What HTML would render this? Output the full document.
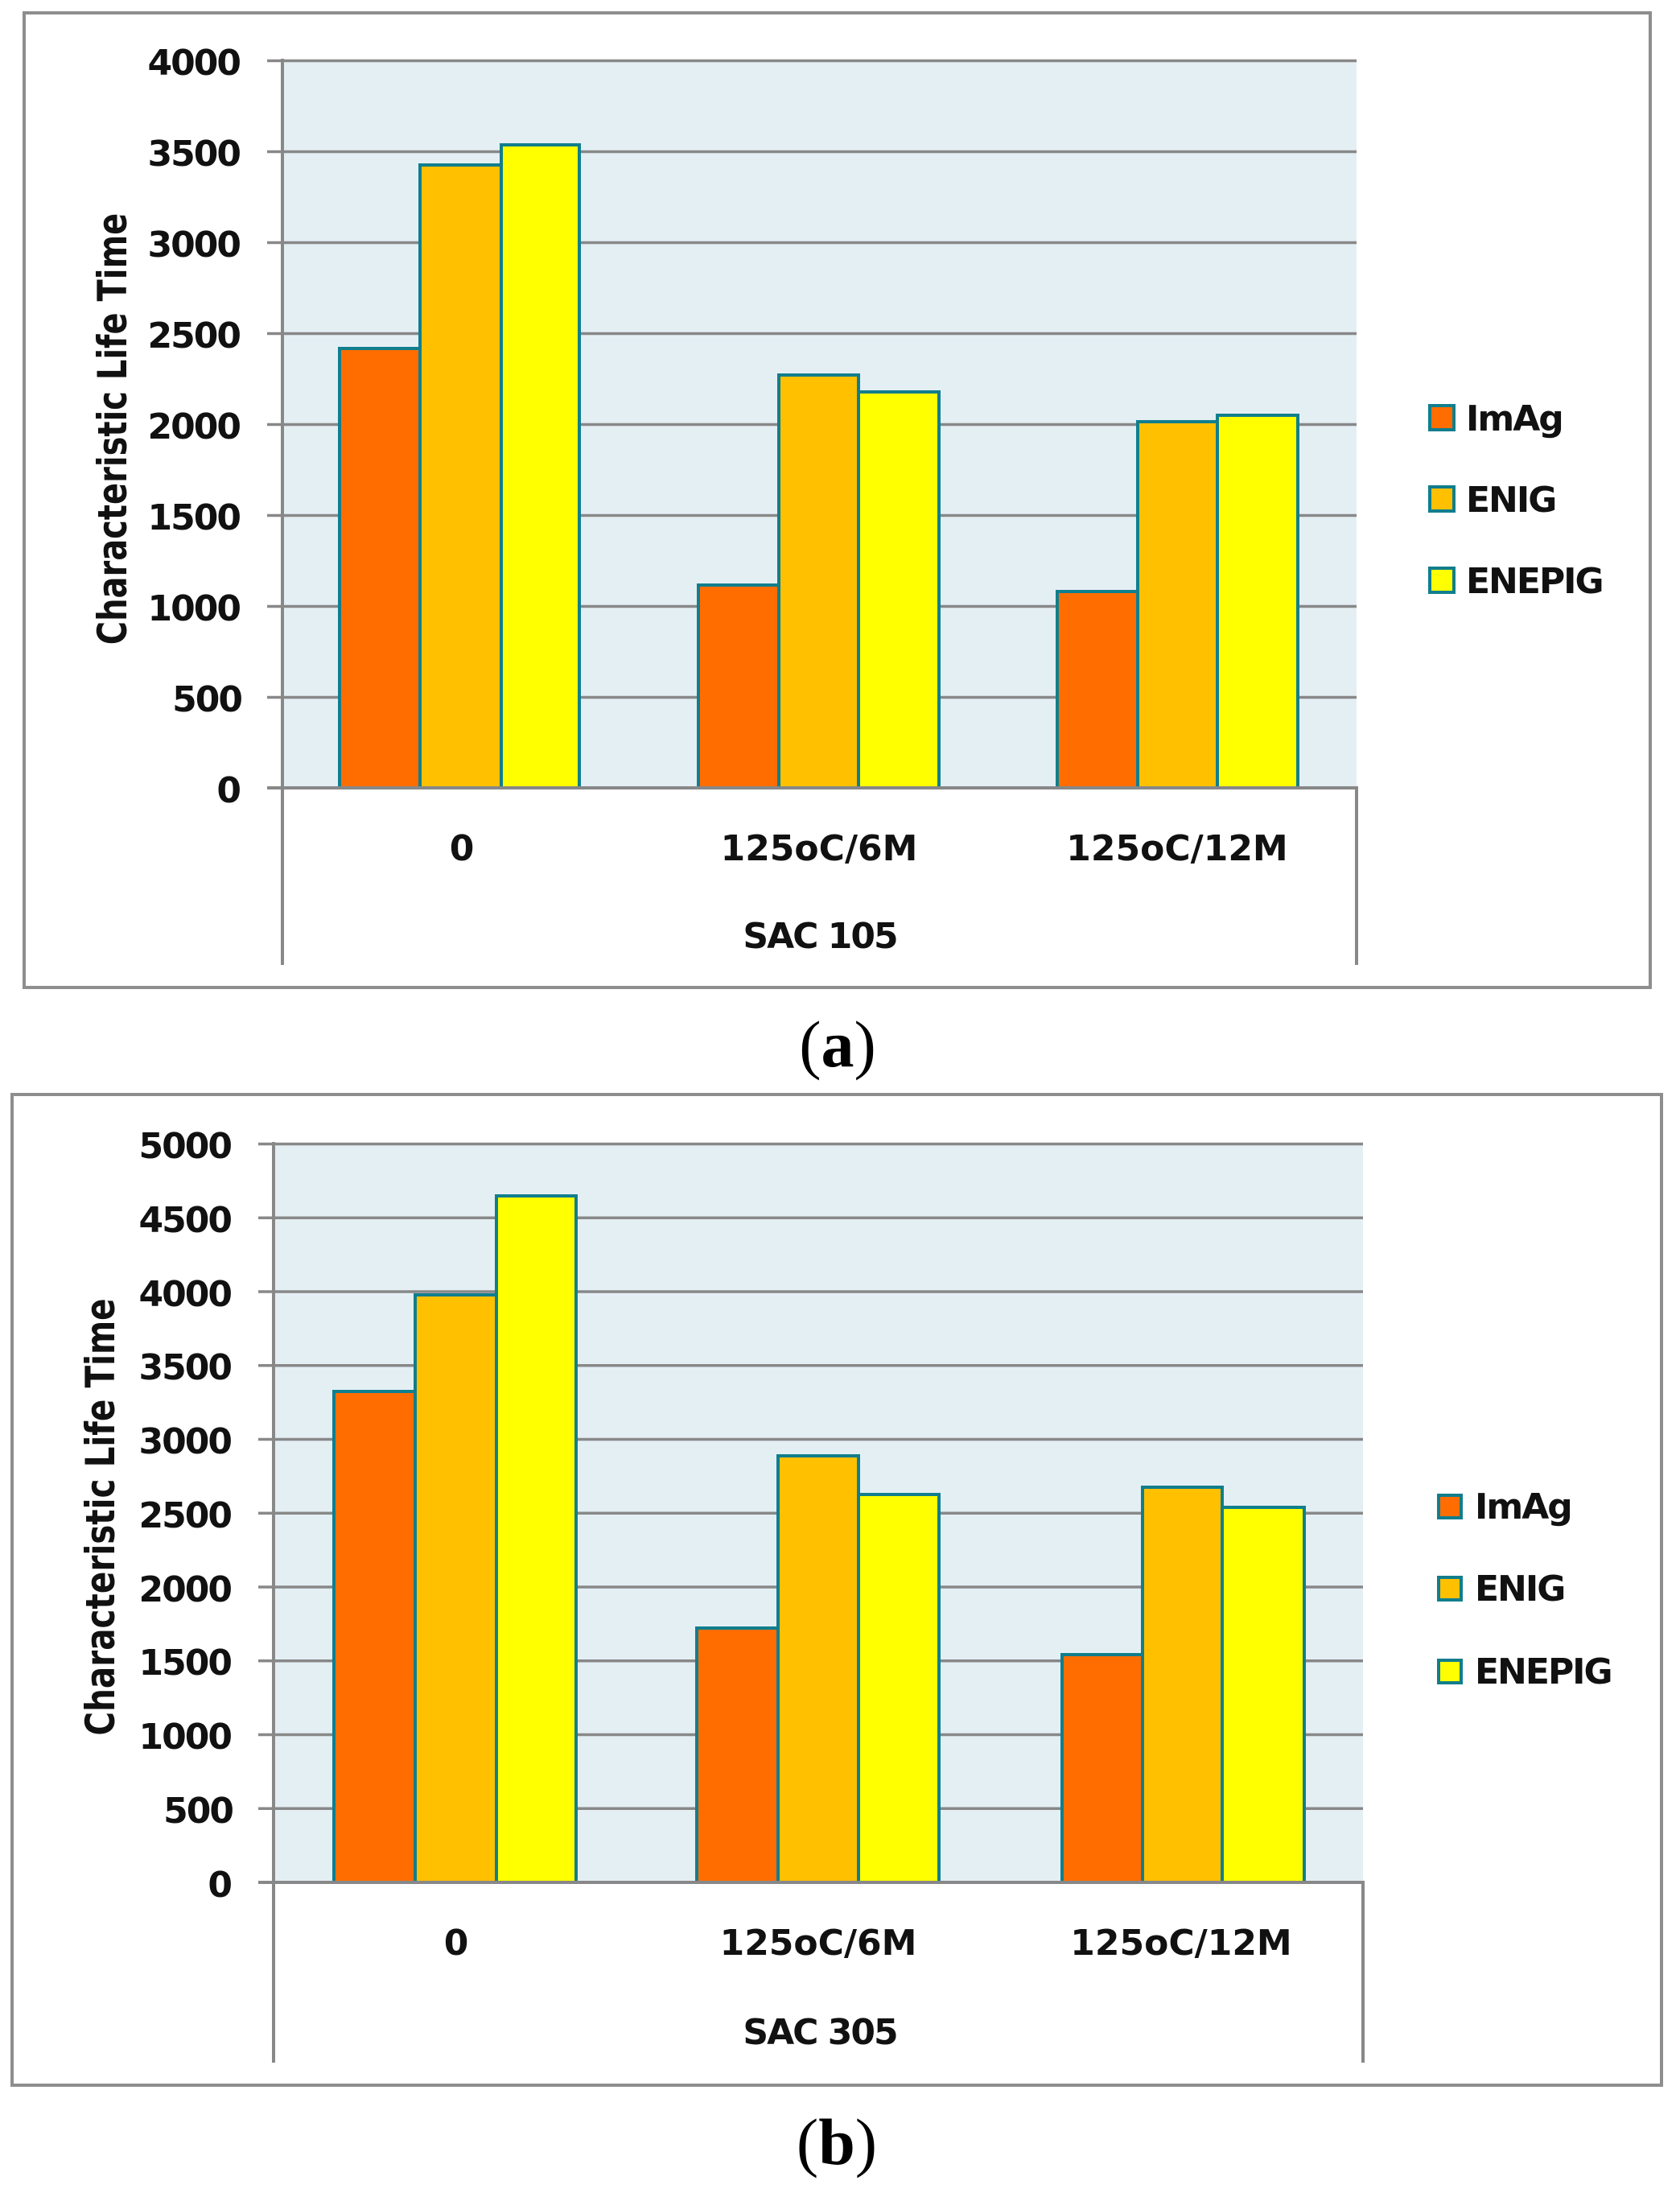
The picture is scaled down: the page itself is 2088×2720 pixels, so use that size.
<!DOCTYPE html>
<html>
<head>
<meta charset="utf-8">
<style>
html,body{margin:0;padding:0;background:#fff;}
svg{display:block;}
.t{font-family:"DejaVu Sans","Liberation Sans",sans-serif;font-weight:bold;font-size:44px;fill:#111;}
.tk{letter-spacing:-2px;text-anchor:end;}
.lg{letter-spacing:-2px;}
.cat{text-anchor:middle;}
.ttl{font-family:"DejaVu Sans","Liberation Sans",sans-serif;font-weight:bold;font-size:50px;fill:#111;text-anchor:middle;}
.cap{font-family:"Liberation Serif",serif;font-size:82px;fill:#000;text-anchor:middle;}
</style>
</head>
<body>
<svg width="2088" height="2720" viewBox="0 0 2088 2720" xmlns="http://www.w3.org/2000/svg">
<rect width="2088" height="2720" fill="#fff"/>

<!-- ================= CHART A ================= -->
<rect x="30" y="16" width="2021" height="1211" fill="#fff" stroke="#8e8e8e" stroke-width="4"/>
<rect x="351" y="75" width="1335" height="904" fill="#e4eff4"/>
<g stroke="#888" stroke-width="3.5">
<line x1="332" y1="75.5" x2="1686" y2="75.5"/>
<line x1="332" y1="188.5" x2="1686" y2="188.5"/>
<line x1="332" y1="301.5" x2="1686" y2="301.5"/>
<line x1="332" y1="414.5" x2="1686" y2="414.5"/>
<line x1="332" y1="527.5" x2="1686" y2="527.5"/>
<line x1="332" y1="640.5" x2="1686" y2="640.5"/>
<line x1="332" y1="753.5" x2="1686" y2="753.5"/>
<line x1="332" y1="866.5" x2="1686" y2="866.5"/>
</g>
<!-- bars A -->
<g stroke="#117e8d" stroke-width="4">
<rect x="422" y="433" width="100" height="546" fill="#ff6d00"/>
<rect x="522" y="205" width="101" height="774" fill="#ffc000"/>
<rect x="623" y="180" width="97" height="799" fill="#ffff00"/>

<rect x="868" y="727" width="100" height="252" fill="#ff6d00"/>
<rect x="968" y="466" width="99" height="513" fill="#ffc000"/>
<rect x="1067" y="487" width="100" height="492" fill="#ffff00"/>

<rect x="1314" y="735" width="100" height="244" fill="#ff6d00"/>
<rect x="1414" y="524" width="99" height="455" fill="#ffc000"/>
<rect x="1513" y="516" width="100" height="463" fill="#ffff00"/>
</g>
<g stroke="#888" stroke-width="4">
<line x1="332" y1="979" x2="1688" y2="979"/>
<line x1="351" y1="73" x2="351" y2="1199"/>
<line x1="1686" y1="979" x2="1686" y2="1199"/>
</g>
<!-- ticks A -->
<text class="t tk" x="298" y="93">4000</text>
<text class="t tk" x="298" y="206">3500</text>
<text class="t tk" x="298" y="319">3000</text>
<text class="t tk" x="298" y="432">2500</text>
<text class="t tk" x="298" y="545">2000</text>
<text class="t tk" x="298" y="658">1500</text>
<text class="t tk" x="298" y="771">1000</text>
<text class="t tk" x="300" y="884">500</text>
<text class="t tk" x="298" y="997">0</text>
<!-- categories A -->
<text class="t cat" x="574" y="1069">0</text>
<text class="t cat" x="1018" y="1069">125oC/6M</text>
<text class="t cat" x="1463" y="1069">125oC/12M</text>
<text class="t cat lg" x="1019" y="1178">SAC 105</text>
<!-- title A -->
<text class="ttl" transform="translate(157,533) rotate(-90) scale(0.8,1)">Characteristic  Life Time</text>
<!-- legend A -->
<g stroke="#117e8d" stroke-width="4">
<rect x="1777" y="504" width="30" height="30" fill="#ff6d00"/>
<rect x="1777" y="605" width="30" height="30" fill="#ffc000"/>
<rect x="1777" y="706" width="30" height="30" fill="#ffff00"/>
</g>
<text class="t lg" x="1822" y="535">ImAg</text>
<text class="t lg" x="1822" y="636">ENIG</text>
<text class="t lg" x="1822" y="737">ENEPIG</text>
<!-- caption a -->
<text class="cap" x="1041" y="1325">(<tspan font-weight="bold">a</tspan>)</text>

<!-- ================= CHART B ================= -->
<rect x="15" y="1360" width="2050" height="1231" fill="#fff" stroke="#8e8e8e" stroke-width="4"/>
<rect x="340" y="1421" width="1354" height="917" fill="#e4eff4"/>
<g stroke="#888" stroke-width="3.5">
<line x1="321" y1="1421.5" x2="1694" y2="1421.5"/>
<line x1="321" y1="1513.2" x2="1694" y2="1513.2"/>
<line x1="321" y1="1605" x2="1694" y2="1605"/>
<line x1="321" y1="1696.7" x2="1694" y2="1696.7"/>
<line x1="321" y1="1788.5" x2="1694" y2="1788.5"/>
<line x1="321" y1="1880.2" x2="1694" y2="1880.2"/>
<line x1="321" y1="1972" x2="1694" y2="1972"/>
<line x1="321" y1="2063.7" x2="1694" y2="2063.7"/>
<line x1="321" y1="2155.5" x2="1694" y2="2155.5"/>
<line x1="321" y1="2247.2" x2="1694" y2="2247.2"/>
</g>
<!-- bars B -->
<g stroke="#117e8d" stroke-width="4">
<rect x="415" y="1729" width="101" height="610" fill="#ff6d00"/>
<rect x="516" y="1609" width="101" height="730" fill="#ffc000"/>
<rect x="617" y="1486" width="99" height="853" fill="#ffff00"/>

<rect x="866" y="2023" width="101" height="316" fill="#ff6d00"/>
<rect x="967" y="1809" width="100" height="530" fill="#ffc000"/>
<rect x="1067" y="1857" width="100" height="482" fill="#ffff00"/>

<rect x="1320" y="2056" width="100" height="283" fill="#ff6d00"/>
<rect x="1420" y="1848" width="99" height="491" fill="#ffc000"/>
<rect x="1519" y="1873" width="102" height="466" fill="#ffff00"/>
</g>
<g stroke="#888" stroke-width="4">
<line x1="321" y1="2339" x2="1696" y2="2339"/>
<line x1="340" y1="1419" x2="340" y2="2563"/>
<line x1="1694" y1="2339" x2="1694" y2="2563"/>
</g>
<!-- ticks B -->
<text class="t tk" x="287" y="1439">5000</text>
<text class="t tk" x="287" y="1531">4500</text>
<text class="t tk" x="287" y="1623">4000</text>
<text class="t tk" x="287" y="1714">3500</text>
<text class="t tk" x="287" y="1806">3000</text>
<text class="t tk" x="287" y="1898">2500</text>
<text class="t tk" x="287" y="1990">2000</text>
<text class="t tk" x="287" y="2081">1500</text>
<text class="t tk" x="287" y="2173">1000</text>
<text class="t tk" x="289" y="2265">500</text>
<text class="t tk" x="287" y="2357">0</text>
<!-- categories B -->
<text class="t cat" x="567" y="2429">0</text>
<text class="t cat" x="1017" y="2429">125oC/6M</text>
<text class="t cat" x="1468" y="2429">125oC/12M</text>
<text class="t cat lg" x="1019" y="2540">SAC 305</text>
<!-- title B -->
<text class="ttl" transform="translate(142,1885) rotate(-90) scale(0.81,1)">Characteristic  Life Time</text>
<!-- legend B -->
<g stroke="#117e8d" stroke-width="4">
<rect x="1788" y="1858" width="28" height="28" fill="#ff6d00"/>
<rect x="1788" y="1960" width="28" height="28" fill="#ffc000"/>
<rect x="1788" y="2063" width="28" height="28" fill="#ffff00"/>
</g>
<text class="t lg" x="1833" y="1887">ImAg</text>
<text class="t lg" x="1833" y="1989">ENIG</text>
<text class="t lg" x="1833" y="2092">ENEPIG</text>
<!-- caption b -->
<text class="cap" x="1040" y="2689">(<tspan font-weight="bold">b</tspan>)</text>
</svg>
</body>
</html>
